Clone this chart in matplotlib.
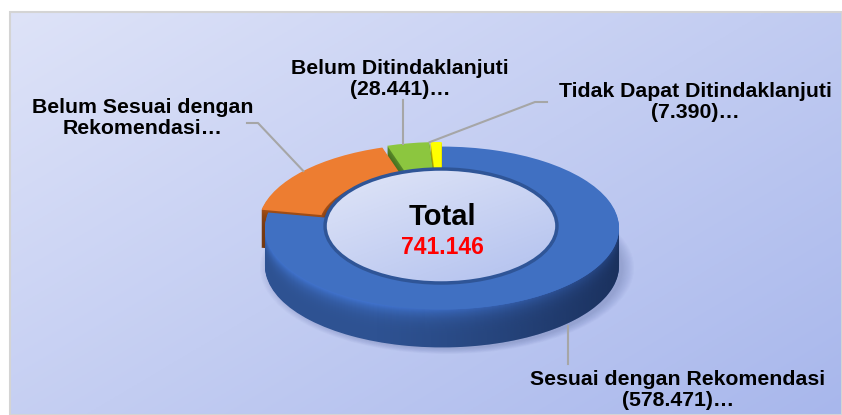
import numpy as np
import matplotlib.pyplot as plt
from matplotlib.patches import Ellipse, Rectangle, Polygon
from matplotlib.colors import to_rgb

plt.rcParams['font.family'] = ['Liberation Sans', 'DejaVu Sans']

# data
names = ['Sesuai dengan Rekomendasi', 'Belum Sesuai dengan Rekomendasi',
         'Belum Ditindaklanjuti', 'Tidak Dapat Ditindaklanjuti']
values = [578471, 126844, 28441, 7390]
total = 741146
label_texts = ['Sesuai dengan Rekomendasi\n(578.471)…',
               'Belum Sesuai dengan\nRekomendasi…',
               'Belum Ditindaklanjuti\n(28.441)…',
               'Tidak Dapat Ditindaklanjuti\n(7.390)…']
top_colors = ['#4070c2', '#ed7d31', '#8cc63f', '#ffff00']
side_colors = ['#3864b2', '#8f4514', '#4e7a24', '#a9a200']
explode = [0, 9, 10, 10]

# geometry (pixel space, y squashed by S to fake the tilt)
W, H = 842, 415
S = 0.46
CX, CY, R = 442, 228, 177
HOLE = 0.655
D = 38


def Y(py):
    return -py / S


fig = plt.figure(figsize=(W / 100, H / 100), dpi=100)
ax = fig.add_axes([0, 0, 1, 1])
ax.axis('off')

# background gradient
c0, c1 = np.array(to_rgb('#dee3f8')), np.array(to_rgb('#a8b7ec'))
u = np.linspace(0, 1, 300)[None, :]
v = np.linspace(0, 1, 150)[:, None]
t = (0.55 * u + 0.45 * v)[..., None]
ax.imshow(c0 + (c1 - c0) * t, extent=(10, W, Y(H), Y(12)), aspect='auto',
          origin='upper', zorder=0)
ax.add_patch(Rectangle((10, Y(H)), W - 10, Y(12) - Y(H), fill=False,
                       ec='#d4d4d4', lw=1.5, zorder=1))

# soft shadow
for i in range(10):
    ax.add_patch(Ellipse((CX + 5, Y(CY + D + 2)), 2 * R + 20 - i * 2.5,
                         2 * R + 20 - i * 2.5, fc='#4a5a94', ec='none',
                         alpha=0.03, zorder=2))

# side walls: stacked pies, lighter near the top edge
for k in range(D, 0, -1):
    f = k / D
    shade = 0.82 + 0.35 * (1 - f) ** 4
    cols = [np.clip(np.array(to_rgb(c)) * shade, 0, 1) for c in side_colors]
    wedges, _ = ax.pie(values, colors=cols, startangle=90, counterclock=False,
                       radius=R, center=(CX, Y(CY + k)), explode=explode,
                       wedgeprops=dict(width=R * (1 - HOLE), linewidth=0))
    for w in wedges:
        w.set_zorder(3)

# darken the front wall towards the right
a = np.radians(np.linspace(90, 270, 120))
front = np.vstack([
    np.column_stack([CX + R * np.sin(a), Y(CY) + R * np.cos(a)]),
    np.column_stack([CX + R * np.sin(a[::-1]), Y(CY + D) + R * np.cos(a[::-1])]),
])
wall = Polygon(front, closed=True, fc='none', ec='none')
ax.add_patch(wall)
g = np.zeros((2, 300, 4))
g[..., :3] = to_rgb('#0b1633')
g[..., 3] = 0.55 * np.clip((np.linspace(0, 1, 300) - 0.3) / 0.7, 0, 1) ** 1.3
sh = ax.imshow(g, extent=(CX - R, CX + R, Y(CY + R * S + D + 2), Y(CY - 5)),
               aspect='auto', origin='upper', zorder=3.5)
sh.set_clip_path(wall)

wedges, _ = ax.pie(values, colors=top_colors, startangle=90, counterclock=False,
                   radius=R, center=(CX, Y(CY)), explode=explode,
                   wedgeprops=dict(width=R * (1 - HOLE), linewidth=0))
for w in wedges:
    w.set_zorder(4)

# hole with gradient fill
hole = Ellipse((CX - 1, Y(CY - 2)), 2 * R * HOLE, 2 * 57 / S, fc='none',
               ec='#2f5597', lw=2.5, zorder=6)
h0, h1 = np.array(to_rgb('#e2e7f8')), np.array(to_rgb('#b0bfee'))
ht = (0.4 * u + 0.6 * v)[..., None]
im = ax.imshow(h0 + (h1 - h0) * ht,
               extent=(CX - R * HOLE, CX + R * HOLE, Y(CY + 60), Y(CY - 64)),
               aspect='auto', origin='upper', zorder=5)
im.set_clip_path(hole.get_path(), hole.get_patch_transform() + ax.transData)
ax.add_patch(hole)

ax.set_aspect('auto')
ax.set_xlim(0, W)
ax.set_ylim(Y(H), 0)

ax.text(CX, Y(217), 'Total', ha='center', va='center', fontsize=21,
        fontweight='bold', color='black', zorder=7)
ax.text(CX, Y(247), f'{total:,}'.replace(',', '.'), ha='center', va='center',
        fontsize=16.5, fontweight='bold', color='#ff0000', zorder=7)

# labels and leader lines
cum = np.cumsum([0] + values) / total * 360
mid = np.radians((cum[:-1] + cum[1:]) / 2)


def anchor(i, depth=0, shift=0.0):
    r = R + explode[i]
    th = mid[i] + np.radians(shift)
    return CX + r * np.sin(th), Y(CY + depth) + r * np.cos(th)


lc = '#a6a6a6'
tk = dict(ha='center', va='center', fontsize=15.3, fontweight='bold',
          linespacing=1.1, zorder=7)

ax.text(678, Y(390), label_texts[0], **tk)
x, y = anchor(0, D, -6)
ax.plot([x, x], [y - 6, Y(364)], color=lc, lw=1.5, zorder=7)

ax.text(143, Y(118), label_texts[1], **tk)
x, y = anchor(1)
ax.plot([x, 258, 247], [y, Y(123), Y(123)], color=lc, lw=1.5, zorder=7)

ax.text(400, Y(79), label_texts[2], **tk)
x, y = anchor(2, 0, -1.5)
ax.plot([x, x], [y, Y(100)], color=lc, lw=1.5, zorder=7)

ax.text(695, Y(102), label_texts[3], **tk)
x, y = anchor(3, 0, -2)
ax.plot([x, 535, 547], [y, Y(102), Y(102)], color=lc, lw=1.5, zorder=7)

fig.savefig('out.png', dpi=100, facecolor='white')
